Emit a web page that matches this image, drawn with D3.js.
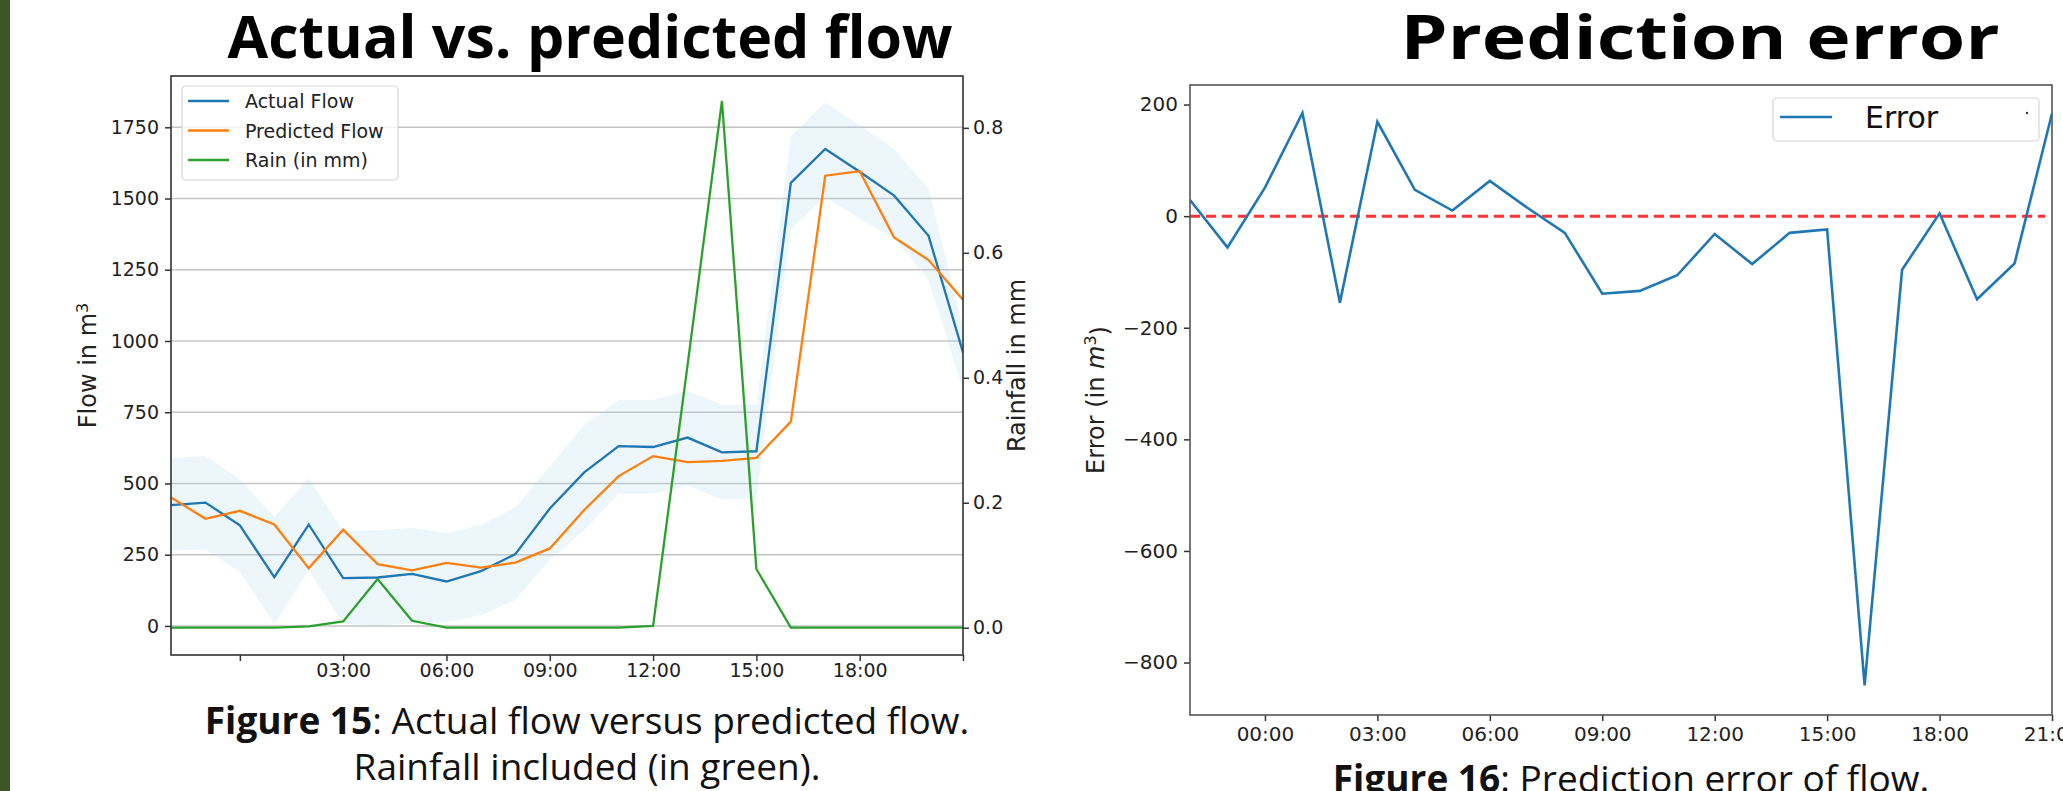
<!DOCTYPE html>
<html>
<head>
<meta charset="utf-8">
<script src="https://cdn.jsdelivr.net/npm/d3@7"></script>
<style>
  body { margin: 0; background: #fff; }
  svg { display: block; }
</style>
</head>
<body>
<div id="chart"></div>
<script>
// hourly timestamps, 22:00 of the previous day up to 21:00
const hours = ["22:00","23:00","00:00","01:00","02:00","03:00","04:00","05:00","06:00","07:00","08:00","09:00",
               "10:00","11:00","12:00","13:00","14:00","15:00","16:00","17:00","18:00","19:00","20:00","21:00"];

// flow in m3 (left chart)
const actualFlow    = [424, 433, 353, 171, 356, 168, 170, 183, 156, 192, 252, 412, 539, 631, 628, 661, 609, 613, 1555, 1674, 1594, 1510, 1369, 960];
const predictedFlow = [451, 376, 404, 356, 203, 338, 217, 195, 221, 205, 222, 272, 407, 526, 596, 575, 579, 590, 717, 1580, 1596, 1363, 1284, 1145];
const bandUpper     = [588, 597, 514, 383, 518, 333, 336, 345, 324, 355, 416, 560, 705, 793, 793, 825, 776, 776, 1717, 1837, 1756, 1674, 1534, 1045];
const bandLower     = [265, 268, 189, 7, 195, 7, 1, 9, 13, 38, 91, 231, 336, 465, 465, 494, 444, 447, 1392, 1505, 1430, 1360, 1215, 829];

// rainfall in mm (left chart, right axis)
const rain = [0, 0, 0, 0, 0.002, 0.01, 0.078, 0.011, 0, 0, 0, 0, 0, 0, 0.003, 0.42, 0.843, 0.094, 0, 0, 0, 0, 0, 0];

// prediction error in m3 (right chart)
const predictionError = [29, -56, 51, 185, -155, 169, 47, 10, 63, 15, -30, -139, -134, -106, -32, -86, -30, -24, -841, -96, 5, -149, -85, 184];

// ticks
const xTicks = ["00:00","03:00","06:00","09:00","12:00","15:00","18:00","21:00"];
const leftXLabels = ["03:00","06:00","09:00","12:00","15:00","18:00"];
const flowTicks = [0, 250, 500, 750, 1000, 1250, 1500, 1750];
const rainTicks = [0, 0.2, 0.4, 0.6, 0.8];
const errorTicks = [-800, -600, -400, -200, 0, 200];

const width = 2063, height = 791;
const tickFont = "'DejaVu Sans', sans-serif";
const titleFont = "'Open Sans', sans-serif";

const svg = d3.select("#chart").append("svg")
    .attr("width", width)
    .attr("height", height);

svg.append("rect").attr("width", width).attr("height", height).attr("fill", "#fff");
// slide border on the left
svg.append("rect").attr("width", 10).attr("height", height).attr("fill", "#3d5527");

function styleAxis(g, size) {
  g.select(".domain").remove();
  g.selectAll(".tick line").attr("stroke", "#333").attr("stroke-width", 1.5);
  g.selectAll(".tick text")
    .attr("fill", "#222")
    .style("font-family", tickFont)
    .style("font-size", size + "px");
}

// ---------------- left chart: actual vs predicted ----------------
const L = {x0: 171, x1: 963, y0: 76, y1: 655};

const xL = d3.scalePoint().domain(hours).range([L.x0, L.x1]);
const yFlow = d3.scaleLinear().domain([-102, 1930]).range([L.y1, L.y0]);
const yRain = d3.scaleLinear().domain([-0.0437, 0.883]).range([L.y1, L.y0]);

svg.append("clipPath").attr("id", "clipL")
  .append("rect").attr("x", L.x0).attr("y", L.y0).attr("width", L.x1 - L.x0).attr("height", L.y1 - L.y0);

// grid
svg.append("g").selectAll("line")
  .data(flowTicks)
  .join("line")
    .attr("x1", L.x0).attr("x2", L.x1)
    .attr("y1", d => yFlow(d)).attr("y2", d => yFlow(d))
    .attr("stroke", "#c4c4c4").attr("stroke-width", 1.5);

const plotL = svg.append("g").attr("clip-path", "url(#clipL)");

// confidence band
const band = d3.area()
  .x((d, i) => xL(hours[i]))
  .y0((d, i) => yFlow(bandLower[i]))
  .y1(d => yFlow(d));
plotL.append("path")
  .datum(bandUpper)
  .attr("d", band)
  .attr("fill", "#add8e6")
  .attr("fill-opacity", 0.22);

const flowLine = d3.line().x((d, i) => xL(hours[i])).y(d => yFlow(d));
const rainLine = d3.line().x((d, i) => xL(hours[i])).y(d => yRain(d));

plotL.append("path").datum(actualFlow).attr("d", flowLine)
  .attr("fill", "none").attr("stroke", "#1f77b4").attr("stroke-width", 2.3);
plotL.append("path").datum(predictedFlow).attr("d", flowLine)
  .attr("fill", "none").attr("stroke", "#ff7f0e").attr("stroke-width", 2.3);
plotL.append("path").datum(rain).attr("d", rainLine)
  .attr("fill", "none").attr("stroke", "#2ca02c").attr("stroke-width", 2.3);

// axes
svg.append("g").attr("transform", `translate(${L.x0},0)`)
  .call(d3.axisLeft(yFlow).tickValues(flowTicks).tickFormat(d3.format("d")).tickSize(6).tickPadding(6))
  .call(g => styleAxis(g, 19));

svg.append("g").attr("transform", `translate(${L.x1},0)`)
  .call(d3.axisRight(yRain).tickValues(rainTicks).tickFormat(d3.format(".1f")).tickSize(6).tickPadding(4))
  .call(g => styleAxis(g, 19));

svg.append("g").attr("transform", `translate(0,${L.y1})`)
  .call(d3.axisBottom(xL).tickValues(xTicks).tickFormat(d => leftXLabels.includes(d) ? d : "").tickSize(6).tickPadding(3))
  .call(g => styleAxis(g, 19));

// frame
svg.append("rect")
  .attr("x", L.x0).attr("y", L.y0).attr("width", L.x1 - L.x0).attr("height", L.y1 - L.y0)
  .attr("fill", "none").attr("stroke", "#333").attr("stroke-width", 1.6);

// axis labels
const flowLabel = svg.append("text")
  .attr("transform", `translate(96,${(L.y0 + L.y1) / 2}) rotate(-90)`)
  .attr("text-anchor", "middle")
  .style("font-family", tickFont).style("font-size", "24px").attr("fill", "#222");
flowLabel.append("tspan").text("Flow in m");
flowLabel.append("tspan").attr("dy", "-0.5em").style("font-size", "16px").text("3");

svg.append("text")
  .attr("transform", `translate(1025,${(L.y0 + L.y1) / 2}) rotate(-90)`)
  .attr("text-anchor", "middle")
  .style("font-family", tickFont).style("font-size", "24px").attr("fill", "#222")
  .text("Rainfall in mm");

// legend
const legL = svg.append("g").attr("transform", "translate(182,86)");
legL.append("rect").attr("width", 216).attr("height", 94).attr("rx", 4)
  .attr("fill", "#fff").attr("fill-opacity", 0.8).attr("stroke", "#d6d6d6").attr("stroke-width", 1.2);
const legItems = [["Actual Flow", "#1f77b4"], ["Predicted Flow", "#ff7f0e"], ["Rain (in mm)", "#2ca02c"]];
legL.selectAll("g")
  .data(legItems)
  .join("g")
    .attr("transform", (d, i) => `translate(0,${15 + i * 29.5})`)
    .each(function(d) {
      const g = d3.select(this);
      g.append("line").attr("x1", 6).attr("x2", 47).attr("stroke", d[1]).attr("stroke-width", 2.3);
      g.append("text").attr("x", 63).attr("y", 7).text(d[0])
        .style("font-family", tickFont).style("font-size", "19px").attr("fill", "#222");
    });

// title and caption
svg.append("text").attr("x", 590).attr("y", 58).attr("text-anchor", "middle")
  .style("font-family", titleFont).style("font-weight", 700).style("font-size", "59px")
  .text("Actual vs. predicted flow");

const cap15 = svg.append("text").attr("text-anchor", "middle")
  .style("font-family", titleFont).style("font-size", "37px").attr("fill", "#111");
const c15a = cap15.append("tspan").attr("x", 587).attr("y", 734);
c15a.append("tspan").style("font-weight", 700).text("Figure 15");
c15a.append("tspan").text(": Actual flow versus predicted flow.");
cap15.append("tspan").attr("x", 587).attr("y", 780).text("Rainfall included (in green).");

// ---------------- right chart: prediction error ----------------
const R = {x0: 1190, x1: 2052, y0: 85, y1: 715};

const xR = d3.scalePoint().domain(hours).range([R.x0, R.x1]);
const yErr = d3.scaleLinear().domain([-894, 235]).range([R.y1, R.y0]);

svg.append("clipPath").attr("id", "clipR")
  .append("rect").attr("x", R.x0).attr("y", R.y0).attr("width", R.x1 - R.x0).attr("height", R.y1 - R.y0);
const plotR = svg.append("g").attr("clip-path", "url(#clipR)");

// zero reference
plotR.append("line")
  .attr("x1", xR(hours[0])).attr("x2", xR(hours[hours.length - 1]) - 7)
  .attr("y1", yErr(0)).attr("y2", yErr(0))
  .attr("stroke", "#ff3333").attr("stroke-width", 3).attr("stroke-dasharray", "10,6");

plotR.append("path")
  .datum(predictionError)
  .attr("d", d3.line().x((d, i) => xR(hours[i])).y(d => yErr(d)))
  .attr("fill", "none").attr("stroke", "#1f77b4").attr("stroke-width", 2.6);

svg.append("g").attr("transform", `translate(${R.x0},0)`)
  .call(d3.axisLeft(yErr).tickValues(errorTicks).tickSize(6).tickPadding(6))
  .call(g => styleAxis(g, 20));

svg.append("g").attr("transform", `translate(0,${R.y1})`)
  .call(d3.axisBottom(xR).tickValues(xTicks).tickSize(6).tickPadding(6))
  .call(g => styleAxis(g, 20));

svg.append("rect")
  .attr("x", R.x0).attr("y", R.y0).attr("width", R.x1 - R.x0).attr("height", R.y1 - R.y0)
  .attr("fill", "none").attr("stroke", "#555").attr("stroke-width", 1.6);

const errLabel = svg.append("text")
  .attr("transform", `translate(1104,${(R.y0 + R.y1) / 2}) rotate(-90)`)
  .attr("text-anchor", "middle")
  .style("font-family", tickFont).style("font-size", "24px").attr("fill", "#222");
errLabel.append("tspan").text("Error (in ");
errLabel.append("tspan").style("font-style", "italic").text("m");
errLabel.append("tspan").attr("dy", "-0.5em").style("font-size", "16px").text("3");
errLabel.append("tspan").attr("dy", "0.5em").text(")");

// legend
const legR = svg.append("g").attr("transform", "translate(1773,98)");
legR.append("rect").attr("width", 266).attr("height", 43).attr("rx", 4)
  .attr("fill", "#fff").attr("fill-opacity", 0.8).attr("stroke", "#d6d6d6").attr("stroke-width", 1.2);
legR.append("line").attr("x1", 7).attr("x2", 59).attr("y1", 19).attr("y2", 19)
  .attr("stroke", "#1f77b4").attr("stroke-width", 2.6);
legR.append("text").attr("x", 92).attr("y", 30).text("Error")
  .style("font-family", tickFont).style("font-size", "30px").attr("fill", "#111");
legR.append("circle").attr("cx", 254).attr("cy", 15).attr("r", 1.2).attr("fill", "#333");

// the slide stretches this title wider than the left one
svg.append("text").attr("x", 1700).attr("y", 59).attr("text-anchor", "middle")
  .attr("textLength", 599).attr("lengthAdjust", "spacingAndGlyphs")
  .style("font-family", titleFont).style("font-weight", 700).style("font-size", "60px")
  .text("Prediction error");

const cap16 = svg.append("text").attr("x", 1631).attr("y", 792).attr("text-anchor", "middle")
  .style("font-family", titleFont).style("font-size", "37px").attr("fill", "#111");
cap16.append("tspan").style("font-weight", 700).text("Figure 16");
cap16.append("tspan").text(": Prediction error of flow.");
</script>
</body>
</html>
